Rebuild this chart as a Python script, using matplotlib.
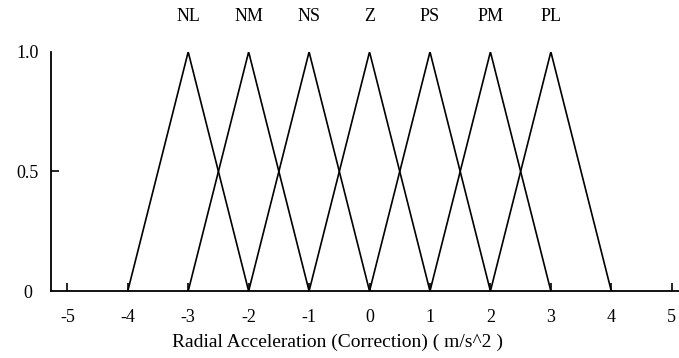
import matplotlib.pyplot as plt
import numpy as np

plt.rcParams['font.family'] = ['Liberation Serif', 'DejaVu Serif']

LABELS = ['NL', 'NM', 'NS', 'Z', 'PS', 'PM', 'PL']
CENTERS = [-3, -2, -1, 0, 1, 2, 3]
HALF_WIDTH = 1.0
X_TICKS = [-5, -4, -3, -2, -1, 0, 1, 2, 3, 4, 5]
Y_TICKS = [0, 0.5, 1.0]
Y_TICK_LABELS = ['0', '0.5', '1.0']
X_LABEL = 'Radial Acceleration (Correction) ( m/s^2 )'


def main() -> None:
    fig = plt.figure(figsize=(6.79, 3.58), dpi=100)
    ax = fig.add_axes([0.0751, 0.187, 0.9249, 0.668])

    for name, c in zip(LABELS, CENTERS):
        xs = [c - HALF_WIDTH, c, c + HALF_WIDTH]
        ax.plot(xs, [0, 1, 0], color='black', lw=1.2, solid_joinstyle='miter')
        ax.text(c, 1.146, name, ha='center', va='center', fontsize=13, clip_on=False)

    ax.set_xlim(-5.27, 5.12)
    ax.set_ylim(0, 1.0)
    ax.spines['top'].set_visible(False)
    ax.spines['right'].set_visible(False)
    for s in ('left', 'bottom'):
        ax.spines[s].set_linewidth(1.3)

    ax.set_xticks(X_TICKS)
    ax.set_xticklabels([str(v) for v in X_TICKS], fontsize=13)
    ax.set_yticks(Y_TICKS)
    ax.set_yticklabels(Y_TICK_LABELS, fontsize=13)
    ax.tick_params(axis='x', direction='in', length=6, width=1.2, pad=13)
    ax.tick_params(axis='y', direction='in', length=6, width=1.2, pad=17)
    for lbl in ax.get_yticklabels():
        lbl.set_horizontalalignment('center')
    ax.yaxis.get_major_ticks()[-1].tick1line.set_visible(False)
    ax.yaxis.get_major_ticks()[0].tick1line.set_visible(False)

    ax.set_xlabel(X_LABEL, fontsize=14)
    ax.xaxis.set_label_coords(0.457, -0.215)
    ax.xaxis.label.set_va('center')

    fig.savefig('out.png', dpi=100)
    plt.close(fig)


if __name__ == '__main__':
    main()
